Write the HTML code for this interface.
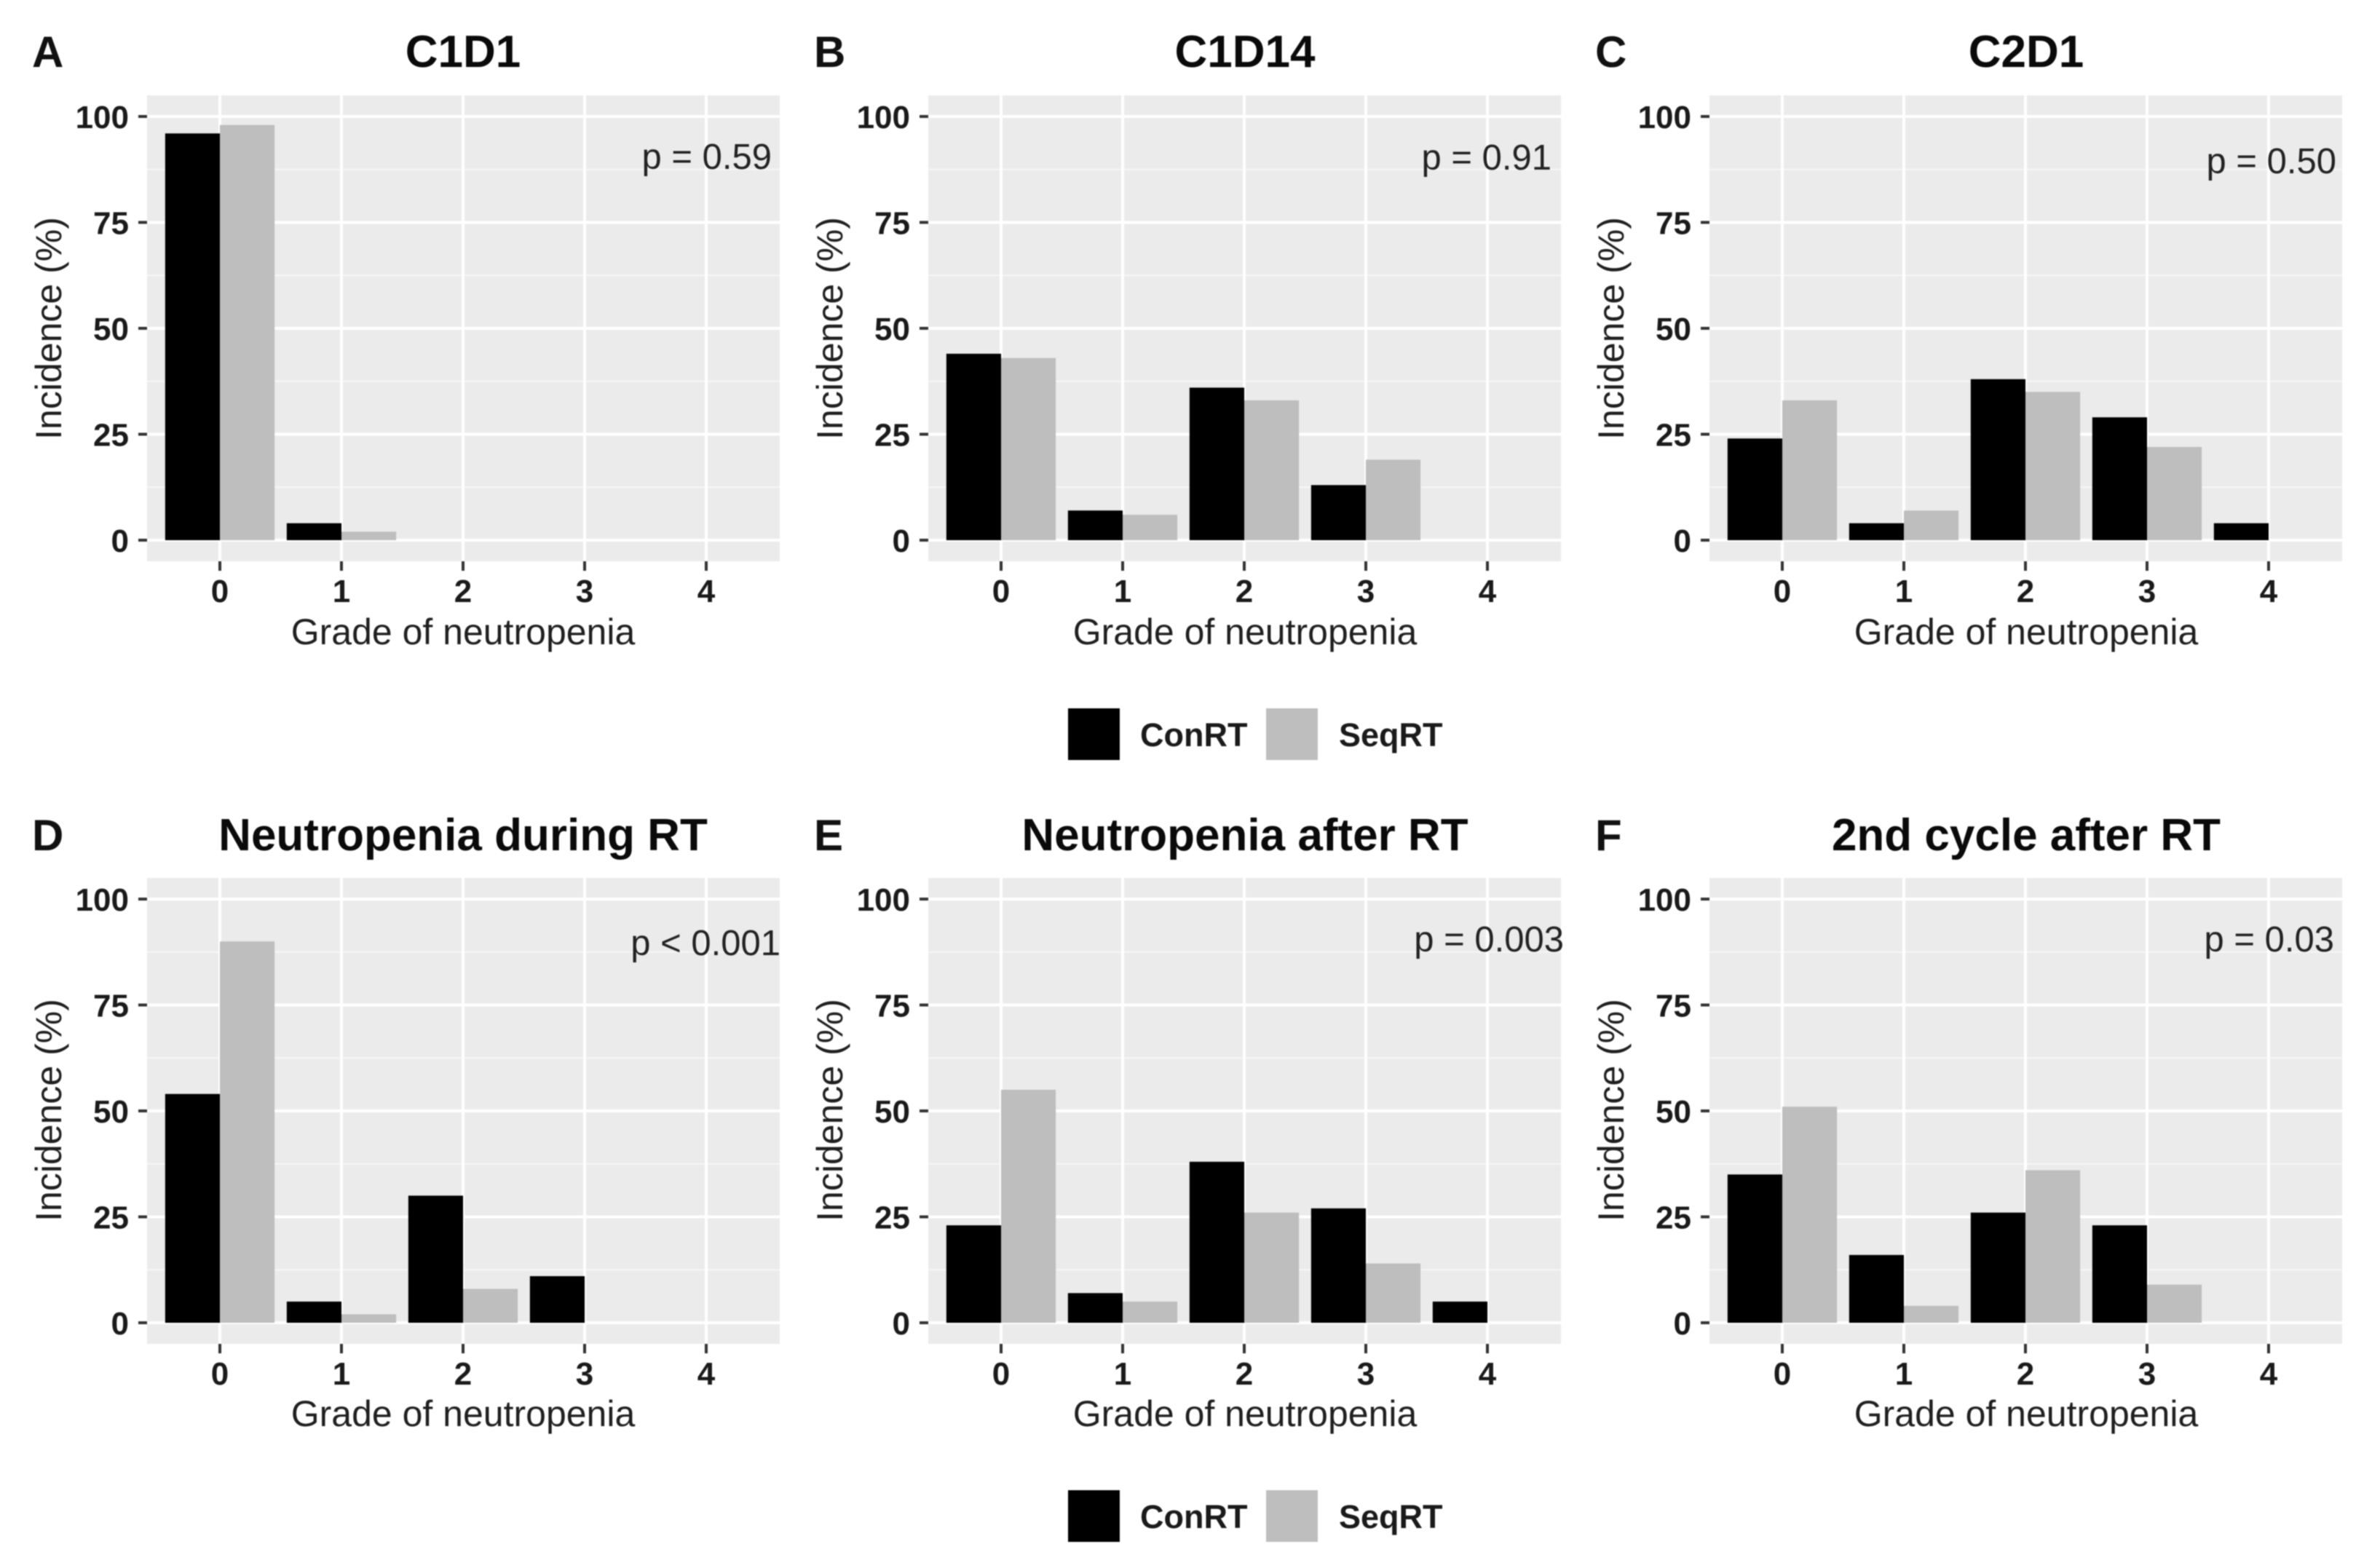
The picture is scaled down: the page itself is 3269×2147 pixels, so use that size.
<!DOCTYPE html>
<html lang="en">
<head>
<meta charset="utf-8">
<title>Grade of neutropenia by treatment phase</title>
<style>
  html, body { margin: 0; padding: 0; background: #ffffff; }
  svg { display: block; filter: blur(0.8px); }
  text { font-family: "Liberation Sans", Arial, sans-serif; }
  .panel-letter { font-size: 60px; font-weight: 700; fill: #111; }
  .panel-title { font-size: 62px; font-weight: 700; fill: #0a0a0a; text-anchor: middle; }
  .axis-title { font-size: 50px; fill: #1f1f1f; text-anchor: middle; }
  .p-value { font-size: 49px; fill: #222; text-anchor: end; }
  .legend-label { font-size: 45px; font-weight: 700; fill: #1a1a1a; }
  .tick-label { font-size: 44px; font-weight: 700; fill: #1a1a1a; }
</style>
</head>
<body>
<svg id="figure" xmlns="http://www.w3.org/2000/svg" width="3269" height="2147" viewBox="0 0 3269 2147">
  <rect x="0" y="0" width="3269" height="2147" fill="#ffffff"/>

  <g id="plots"></g>

  <text class="panel-letter" x="44" y="92">A</text>
  <text class="panel-letter" x="1118" y="92">B</text>
  <text class="panel-letter" x="2191" y="92">C</text>
  <text class="panel-letter" x="44" y="1168">D</text>
  <text class="panel-letter" x="1118" y="1168">E</text>
  <text class="panel-letter" x="2191" y="1168">F</text>

  <text class="panel-title" x="636" y="92">C1D1</text>
  <text class="panel-title" x="1710" y="92">C1D14</text>
  <text class="panel-title" x="2783" y="92">C2D1</text>
  <text class="panel-title" x="636" y="1168">Neutropenia during RT</text>
  <text class="panel-title" x="1710" y="1168">Neutropenia after RT</text>
  <text class="panel-title" x="2783" y="1168">2nd cycle after RT</text>

  <text class="p-value" x="1060" y="232">p = 0.59</text>
  <text class="p-value" x="2131" y="233">p = 0.91</text>
  <text class="p-value" x="3209" y="238">p = 0.50</text>
  <text class="p-value" x="1072" y="1312">p &lt; 0.001</text>
  <text class="p-value" x="2148" y="1307">p = 0.003</text>
  <text class="p-value" x="3206" y="1307">p = 0.03</text>

  <text class="axis-title" x="636" y="885">Grade of neutropenia</text>
  <text class="axis-title" x="1710" y="885">Grade of neutropenia</text>
  <text class="axis-title" x="2783" y="885">Grade of neutropenia</text>
  <text class="axis-title" x="636" y="1959">Grade of neutropenia</text>
  <text class="axis-title" x="1710" y="1959">Grade of neutropenia</text>
  <text class="axis-title" x="2783" y="1959">Grade of neutropenia</text>

  <text class="axis-title" transform="translate(84 451) rotate(-90)">Incidence (%)</text>
  <text class="axis-title" transform="translate(1157 451) rotate(-90)">Incidence (%)</text>
  <text class="axis-title" transform="translate(2230 451) rotate(-90)">Incidence (%)</text>
  <text class="axis-title" transform="translate(84 1525) rotate(-90)">Incidence (%)</text>
  <text class="axis-title" transform="translate(1157 1525) rotate(-90)">Incidence (%)</text>
  <text class="axis-title" transform="translate(2230 1525) rotate(-90)">Incidence (%)</text>

  <g>
    <rect x="1467" y="973" width="71" height="71" fill="#000000"/>
    <text class="legend-label" x="1566" y="1025">ConRT</text>
    <rect x="1739" y="973" width="71" height="71" fill="#bebebe"/>
    <text class="legend-label" x="1839" y="1025">SeqRT</text>
  </g>
  <g>
    <rect x="1467" y="2047" width="71" height="71" fill="#000000"/>
    <text class="legend-label" x="1566" y="2099">ConRT</text>
    <rect x="1739" y="2047" width="71" height="71" fill="#bebebe"/>
    <text class="legend-label" x="1839" y="2099">SeqRT</text>
  </g>
</svg>

<script>
// Chart data
const grades = [0, 1, 2, 3, 4];
const incidenceTicks = [0, 25, 50, 75, 100];

const c1d1ConRT = [96, 4, 0, 0, 0];
const c1d1SeqRT = [98, 2, 0, 0, 0];
const c1d14ConRT = [44, 7, 36, 13, 0];
const c1d14SeqRT = [43, 6, 33, 19, 0];
const c2d1ConRT = [24, 4, 38, 29, 4];
const c2d1SeqRT = [33, 7, 35, 22, 0];
const duringRtConRT = [54, 5, 30, 11, 0];
const duringRtSeqRT = [90, 2, 8, 0, 0];
const afterRtConRT = [23, 7, 38, 27, 5];
const afterRtSeqRT = [55, 5, 26, 14, 0];
const cycle2ConRT = [35, 16, 26, 23, 0];
const cycle2SeqRT = [51, 4, 36, 9, 0];

const panelKeys = ['a', 'b', 'c', 'd', 'e', 'f'];
const conRTSeries = [c1d1ConRT, c1d14ConRT, c2d1ConRT, duringRtConRT, afterRtConRT, cycle2ConRT];
const seqRTSeries = [c1d1SeqRT, c1d14SeqRT, c2d1SeqRT, duringRtSeqRT, afterRtSeqRT, cycle2SeqRT];

// Layout
const SVG_NS = 'http://www.w3.org/2000/svg';
const PANEL_W = 869;
const PANEL_H = 640;
const COL_ORIGIN = 202;
const COL_STEP = 1073;
const ROW_ORIGIN = 131;
const ROW_STEP = 1075;
const X_ZERO_OFFSET = 100;
const X_UNIT = 167;
const Y_ZERO_OFFSET = 611;
const Y_PER_PERCENT = 5.82;
const BAR_W = 0.45;

function panelLeft(i) { return COL_ORIGIN + (i % 3) * COL_STEP; }
function panelTop(i) { return ROW_ORIGIN + Math.floor(i / 3) * ROW_STEP; }
function xScale(i, grade) { return panelLeft(i) + X_ZERO_OFFSET + grade * X_UNIT; }
function yScale(i, value) { return panelTop(i) + Y_ZERO_OFFSET - value * Y_PER_PERCENT; }

function makeRect(parent, x, y, w, h, fill) {
  const el = document.createElementNS(SVG_NS, 'rect');
  el.setAttribute('x', x);
  el.setAttribute('y', y);
  el.setAttribute('width', w);
  el.setAttribute('height', h);
  el.setAttribute('fill', fill);
  parent.appendChild(el);
  return el;
}

function makeText(parent, x, y, anchor, content) {
  const el = document.createElementNS(SVG_NS, 'text');
  el.setAttribute('x', x);
  el.setAttribute('y', y);
  el.setAttribute('text-anchor', anchor);
  el.setAttribute('class', 'tick-label');
  el.textContent = content;
  parent.appendChild(el);
  return el;
}

const plots = document.getElementById('plots');

panelKeys.forEach(function (key, i) {
  const left = panelLeft(i);
  const top = panelTop(i);

  const group = document.createElementNS(SVG_NS, 'g');
  
  
  plots.appendChild(group);

  const bg = makeRect(group, left, top, PANEL_W, PANEL_H, '#ebebeb');
  
  

  // Minor horizontal gridlines halfway between the major ones
  for (let t = 0; t < incidenceTicks.length - 1; t++) {
    const mid = (incidenceTicks[t] + incidenceTicks[t + 1]) / 2;
    const minor = makeRect(group, left, yScale(i, mid) - 1, PANEL_W, 2, '#f6f6f6');
    
    
  }

  incidenceTicks.forEach(function (tick) {
    const y = yScale(i, tick);
    const line = makeRect(group, left, y - 2, PANEL_W, 4, '#ffffff');
    
    
    const mark = makeRect(group, left - 12, y - 2, 12, 4, '#333333');
    
    
    const label = makeText(group, left - 25, y + 16, 'end', tick);
    
    
  });

  grades.forEach(function (grade) {
    const x = xScale(i, grade);
    const line = makeRect(group, x - 2, top, 4, PANEL_H, '#ffffff');
    
    
    const mark = makeRect(group, x - 2, top + PANEL_H, 4, 13, '#333333');
    
    
    const label = makeText(group, x, top + PANEL_H + 56, 'middle', grade);
    
    
  });

  grades.forEach(function (grade, g) {
    const base = yScale(i, 0);
    const barW = BAR_W * X_UNIT;

    const conTop = yScale(i, conRTSeries[i][g]);
    const conBar = makeRect(group, xScale(i, grade) - barW, conTop, barW, base - conTop, '#000000');
    
    

    const seqTop = yScale(i, seqRTSeries[i][g]);
    const seqBar = makeRect(group, xScale(i, grade), seqTop, barW, base - seqTop, '#bebebe');
    
    
  });
});
</script>
</body>
</html>
